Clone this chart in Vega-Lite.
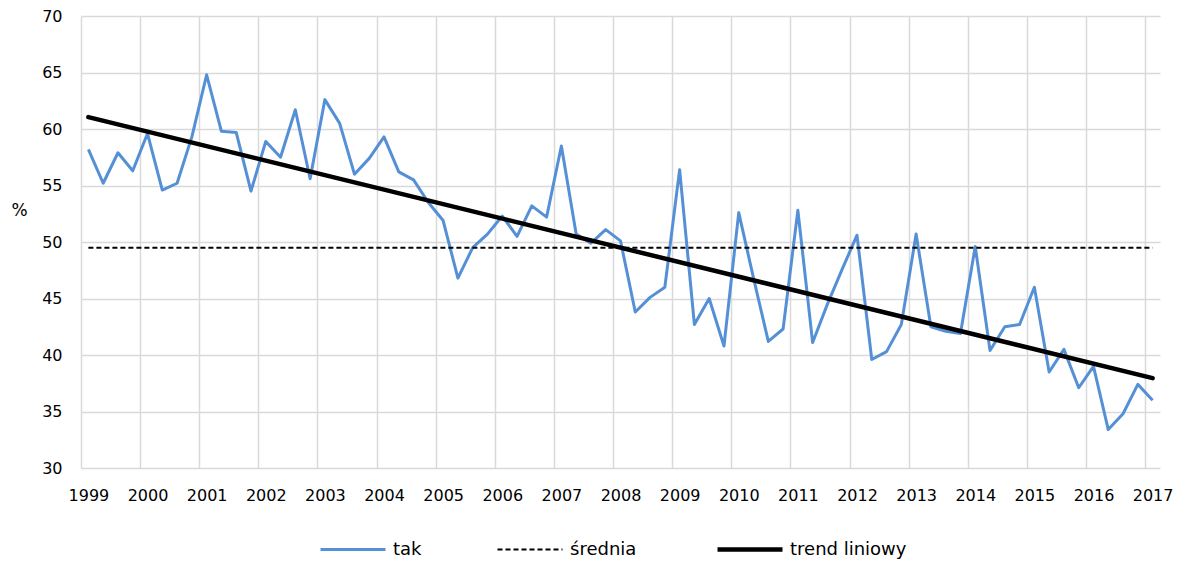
{
  "$schema": "https://vega.github.io/schema/vega-lite/v6.json",
  "width": 1079,
  "height": 452,
  "autosize": "none",
  "padding": {"left": 81, "top": 16, "right": 22, "bottom": 97},
  "background": "white",
  "config": {
    "font": "DejaVu Sans",
    "view": {"stroke": null},
    "axis": {"labelFontSize": 16, "labelColor": "#000000", "gridColor": "#d9d9d9", "gridWidth": 1.5, "ticks": false, "domain": false}
  },
  "datasets": {
    "tak": [
      {"t": 1999.125, "v": 58.2, "s": "tak"}, {"t": 1999.375, "v": 55.2, "s": "tak"}, {"t": 1999.625, "v": 57.9, "s": "tak"}, {"t": 1999.875, "v": 56.3, "s": "tak"},
      {"t": 2000.125, "v": 59.6, "s": "tak"}, {"t": 2000.375, "v": 54.6, "s": "tak"}, {"t": 2000.625, "v": 55.2, "s": "tak"}, {"t": 2000.875, "v": 59.3, "s": "tak"},
      {"t": 2001.125, "v": 64.8, "s": "tak"}, {"t": 2001.375, "v": 59.8, "s": "tak"}, {"t": 2001.625, "v": 59.7, "s": "tak"}, {"t": 2001.875, "v": 54.5, "s": "tak"},
      {"t": 2002.125, "v": 58.9, "s": "tak"}, {"t": 2002.375, "v": 57.5, "s": "tak"}, {"t": 2002.625, "v": 61.7, "s": "tak"}, {"t": 2002.875, "v": 55.6, "s": "tak"},
      {"t": 2003.125, "v": 62.6, "s": "tak"}, {"t": 2003.375, "v": 60.5, "s": "tak"}, {"t": 2003.625, "v": 56.0, "s": "tak"}, {"t": 2003.875, "v": 57.4, "s": "tak"},
      {"t": 2004.125, "v": 59.3, "s": "tak"}, {"t": 2004.375, "v": 56.2, "s": "tak"}, {"t": 2004.625, "v": 55.5, "s": "tak"}, {"t": 2004.875, "v": 53.5, "s": "tak"},
      {"t": 2005.125, "v": 51.9, "s": "tak"}, {"t": 2005.375, "v": 46.8, "s": "tak"}, {"t": 2005.625, "v": 49.5, "s": "tak"}, {"t": 2005.875, "v": 50.7, "s": "tak"},
      {"t": 2006.125, "v": 52.3, "s": "tak"}, {"t": 2006.375, "v": 50.5, "s": "tak"}, {"t": 2006.625, "v": 53.2, "s": "tak"}, {"t": 2006.875, "v": 52.2, "s": "tak"},
      {"t": 2007.125, "v": 58.5, "s": "tak"}, {"t": 2007.375, "v": 50.7, "s": "tak"}, {"t": 2007.625, "v": 49.9, "s": "tak"}, {"t": 2007.875, "v": 51.1, "s": "tak"},
      {"t": 2008.125, "v": 50.1, "s": "tak"}, {"t": 2008.375, "v": 43.8, "s": "tak"}, {"t": 2008.625, "v": 45.1, "s": "tak"}, {"t": 2008.875, "v": 46.0, "s": "tak"},
      {"t": 2009.125, "v": 56.4, "s": "tak"}, {"t": 2009.375, "v": 42.7, "s": "tak"}, {"t": 2009.625, "v": 45.0, "s": "tak"}, {"t": 2009.875, "v": 40.8, "s": "tak"},
      {"t": 2010.125, "v": 52.6, "s": "tak"}, {"t": 2010.375, "v": 46.8, "s": "tak"}, {"t": 2010.625, "v": 41.2, "s": "tak"}, {"t": 2010.875, "v": 42.3, "s": "tak"},
      {"t": 2011.125, "v": 52.8, "s": "tak"}, {"t": 2011.375, "v": 41.1, "s": "tak"}, {"t": 2011.625, "v": 44.5, "s": "tak"}, {"t": 2011.875, "v": 47.6, "s": "tak"},
      {"t": 2012.125, "v": 50.6, "s": "tak"}, {"t": 2012.375, "v": 39.6, "s": "tak"}, {"t": 2012.625, "v": 40.3, "s": "tak"}, {"t": 2012.875, "v": 42.7, "s": "tak"},
      {"t": 2013.125, "v": 50.7, "s": "tak"}, {"t": 2013.375, "v": 42.5, "s": "tak"}, {"t": 2013.625, "v": 42.1, "s": "tak"}, {"t": 2013.875, "v": 41.9, "s": "tak"},
      {"t": 2014.125, "v": 49.6, "s": "tak"}, {"t": 2014.375, "v": 40.4, "s": "tak"}, {"t": 2014.625, "v": 42.5, "s": "tak"}, {"t": 2014.875, "v": 42.7, "s": "tak"},
      {"t": 2015.125, "v": 46.0, "s": "tak"}, {"t": 2015.375, "v": 38.5, "s": "tak"}, {"t": 2015.625, "v": 40.5, "s": "tak"}, {"t": 2015.875, "v": 37.1, "s": "tak"},
      {"t": 2016.125, "v": 39.0, "s": "tak"}, {"t": 2016.375, "v": 33.4, "s": "tak"}, {"t": 2016.625, "v": 34.8, "s": "tak"}, {"t": 2016.875, "v": 37.4, "s": "tak"},
      {"t": 2017.125, "v": 36.0, "s": "tak"}
    ],
    "srednia": [
      {"t": 1999.125, "v": 49.5, "s": "średnia"}, {"t": 2017.125, "v": 49.5, "s": "średnia"}
    ],
    "trend": [
      {"t": 1999.125, "v": 61.05, "s": "trend liniowy"}, {"t": 2017.125, "v": 37.95, "s": "trend liniowy"}
    ]
  },
  "encoding": {
    "x": {
      "field": "t", "type": "quantitative",
      "scale": {"domain": [1999, 2017.25], "nice": false, "zero": false},
      "axis": {"title": null, "values": [1999, 2000, 2001, 2002, 2003, 2004, 2005, 2006, 2007, 2008, 2009, 2010, 2011, 2012, 2013, 2014, 2015, 2016, 2017],
               "format": "d", "labelOffset": 7.4, "labelFlush": false, "labelOverlap": false, "labelPadding": 19, "grid": true}
    },
    "y": {
      "field": "v", "type": "quantitative",
      "scale": {"domain": [30, 70], "nice": false, "zero": false},
      "axis": {"values": [30, 35, 40, 45, 50, 55, 60, 65, 70], "labelPadding": 19, "grid": true,
               "title": "%", "titleAngle": 0, "titleX": -62, "titleY": 194, "titleAlign": "center", "titleBaseline": "middle",
               "titleFontSize": 17, "titleFontWeight": "normal", "titleColor": "#000000"}
    },
    "color": {
      "field": "s", "type": "nominal",
      "scale": {"domain": ["tak", "średnia", "trend liniowy"], "range": ["#5590D6", "#000000", "#000000"]},
      "legend": {"title": null, "orient": "none", "legendX": 263, "legendY": 524.5, "direction": "horizontal",
                 "symbolType": "stroke", "symbolSize": 4225, "labelFontSize": 18, "labelColor": "#000000",
                 "columnPadding": 71, "labelOffset": 31,
                 "encode": {"symbols": {"update": {
                   "strokeWidth": {"signal": "datum.value === 'trend liniowy' ? 4.5 : (datum.value === 'tak' ? 3 : 2)"},
                   "strokeDash": {"signal": "datum.value === 'średnia' ? [5, 3] : [1, 0]"}
                 }}}}
    }
  },
  "layer": [
    {"data": {"name": "tak"}, "mark": {"type": "line", "strokeWidth": 3, "strokeJoin": "round"}},
    {"data": {"name": "srednia"}, "mark": {"type": "line", "strokeWidth": 2, "strokeDash": [5, 3]}},
    {"data": {"name": "trend"}, "mark": {"type": "line", "strokeWidth": 4.5, "strokeCap": "round"}}
  ]
}
